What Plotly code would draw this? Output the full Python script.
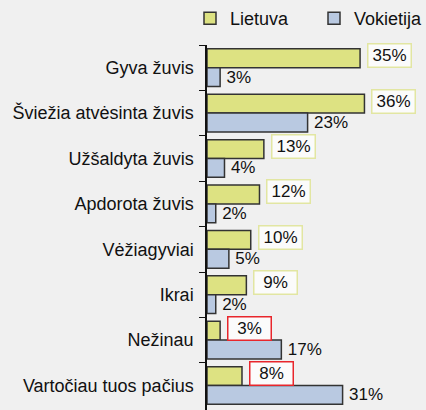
import plotly.graph_objects as go

categories = ["Gyva žuvis", "Šviežia atvėsinta žuvis", "Užšaldyta žuvis", "Apdorota žuvis",
              "Vėžiagyviai", "Ikrai", "Nežinau", "Vartočiau tuos pačius"]
lietuva = [35, 36, 13, 12, 10, 9, 3, 8]
vokietija = [3, 23, 4, 2, 5, 2, 17, 31]
box_colors = ["#e2e6a2"] * 6 + ["#e8262c"] * 2

FONT = "Liberation Sans, Arial, sans-serif"
fig = go.Figure()
fig.add_trace(go.Bar(name="Lietuva", y=categories, x=lietuva, orientation="h",
                     legend="legend",
                     marker=dict(color="#dde282", line=dict(color="#333333", width=1.5))))
fig.add_trace(go.Bar(name="Vokietija", y=categories, x=vokietija, orientation="h",
                     legend="legend2",
                     marker=dict(color="#b9c9e1", line=dict(color="#333333", width=1.5)),
                     text=[f"{v}%" for v in vokietija], textposition="outside",
                     texttemplate="\u2009%{text}",
                     constraintext="none",
                     textfont=dict(size=17, color="#111111", family=FONT), cliponaxis=False))

for c, v, bc in zip(categories, lietuva, box_colors):
    fig.add_annotation(x=v, y=c, xref="x", yref="y", text=f"{v}%", showarrow=False,
                       xanchor="left", yanchor="middle", xshift=7, yshift=12,
                       width=38, height=18, borderpad=2, bordercolor=bc, borderwidth=1.5,
                       bgcolor="#fbfbfb", font=dict(size=17, color="#111111", family=FONT))

legend_common = dict(orientation="h", xref="container", y=1.0, yref="container",
                     xanchor="left", yanchor="top",
                     font=dict(size=18, family=FONT, color="#111111"),
                     bgcolor="rgba(0,0,0,0)")

fig.update_layout(
    width=426, height=410,
    margin=dict(l=207, r=6, t=45, b=0, autoexpand=False),
    paper_bgcolor="#f0f0f0", plot_bgcolor="rgba(0,0,0,0)",
    barmode="group", bargap=0.17, bargroupgap=0,
    font=dict(family=FONT, size=17, color="#111111"),
    showlegend=True,
    legend=dict(x=190 / 426, **legend_common),
    legend2=dict(x=314 / 426, **legend_common),
    xaxis=dict(visible=False, range=[0, 48.7]),
    yaxis=dict(autorange="reversed", showline=True, linecolor="#111111", linewidth=1.5,
               ticks="outside", ticklen=6, tickcolor="#111111", tickson="boundaries",
               ticklabelstandoff=8, tickfont=dict(size=18, family=FONT, color="#111111")),
)
fig.write_html("out.html", config={"displayModeBar": False},
               post_script="document.body.style.margin='0px';document.body.style.overflow='hidden';")
